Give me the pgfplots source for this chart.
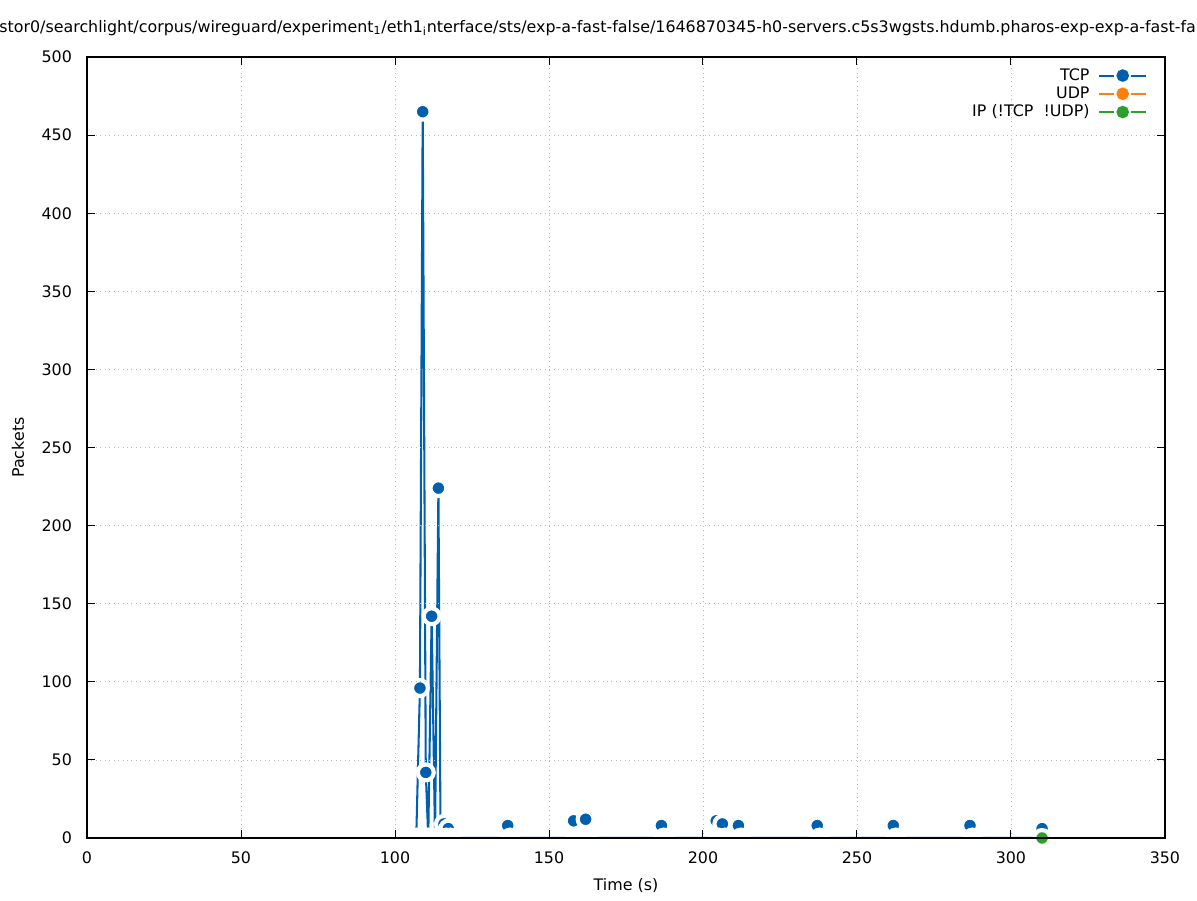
\documentclass[border=0pt]{standalone}
\usepackage{fontspec}
\setmainfont{DejaVu Sans}
\usepackage{pgfplots}
\pgfplotsset{compat=1.18}
\usepackage{pgfplotstable}

\definecolor{tcpblue}{HTML}{0060AD}
\definecolor{udporange}{HTML}{FF7F0E}
\definecolor{ipgreen}{HTML}{2CA02C}

% TCP packets per interval (line through every sample)
\pgfplotstableread{
t     pk
106.9 0
108.1 96
109.0 465
110.0 42
110.8 0
111.9 142
113.0 0
114.1 224
114.8 0
115.9 9
116.6 0
117.3 6
118.0 0
135.6 0
136.6 8
137.4 0
157.2 0
158.0 11
158.8 0
161.1 0
161.9 12
162.7 0
185.7 0
186.5 8
187.3 0
203.5 0
204.3 11
205.1 0
205.5 0
206.3 9
207.1 0
210.7 0
211.5 8
212.3 0
236.3 0
237.1 8
237.9 0
261.0 0
261.8 8
262.6 0
285.9 0
286.7 8
287.5 0
309.3 0
310.1 6
}\tcpline

% TCP samples that carry a visible point
\pgfplotstableread{
t     pk
108.1 96
109.0 465
110.0 42
111.9 142
114.1 224
115.9 9
117.3 6
136.6 8
158.0 11
161.9 12
186.5 8
204.3 11
206.3 9
211.5 8
237.1 8
261.8 8
286.7 8
310.1 6
}\tcpmarks

% zero samples (their points are blanked, only the white gap remains)
\pgfplotstableread{
t     pk
106.9 0
110.8 0
113.0 0
114.8 0
116.6 0
118.0 0
137.4 0
158.8 0
162.7 0
187.3 0
205.1 0
207.1 0
212.3 0
237.9 0
262.6 0
287.5 0
}\tcpzero

% IP (!TCP && !UDP)
\pgfplotstableread{
t     pk
310.1 0
}\ipdata

\begin{document}
\begin{tikzpicture}
\begin{axis}[
    set layers,
    axis on top,
    scale only axis,
    width=679.1pt,
    height=492.0pt,
    at={(0pt,0pt)},
    anchor=south west,
    xmin=0, xmax=350,
    ymin=0, ymax=500,
    xtick distance=50,
    ytick distance=50,
    tick align=inside,
    major tick length=5pt,
    tick style={black, line width=0.6pt},
    axis line style={black, line width=1.3pt},
    grid=major,
    grid style={gray!55, line width=0.5pt, dash pattern=on 0.6pt off 2.2pt},
    /pgf/number format/assume math mode=true,
    ticklabel style={font=\fontsize{10}{12}\selectfont},
    xticklabel style={yshift=-5.3pt},
    yticklabel style={xshift=-6pt},
    xlabel={Time (s)},
    ylabel={Packets},
    xlabel style={at={(axis description cs:0.5,0)}, anchor=center, yshift=-30.2pt},
    ylabel style={at={(axis description cs:0,0.5)}, anchor=center, yshift=43.5pt},
    label style={font=\fontsize{10}{12}\selectfont},
    legend plot pos=right,
    legend cell align=right,
    legend style={at={(1,1)}, anchor=north east, xshift=-8pt, yshift=-4pt,
        draw=none, fill=none, row sep=0.6pt,
        font=\fontsize{10}{12}\selectfont,
        nodes={inner sep=1pt}},
    legend image code/.code={
        \path (0pt,0pt);
        \draw[#1, mark=none] (4.5pt,0pt) -- (14pt,0pt);
        \draw[#1, mark=none] (24.5pt,0pt) -- (34pt,0pt);
        \draw[#1, only marks, mark size=3.3pt, mark options={draw=none}] plot coordinates {(19.25pt,0pt)};
    },
]
\addplot[tcpblue, line width=1.3pt, forget plot] table[x=t, y=pk] {\tcpline};
\addplot[only marks, mark=*, mark size=5pt,
    mark options={fill=tcpblue, draw=white, line width=2.6pt}, forget plot]
    table[x=t, y=pk] {\tcpmarks};
\addplot[white, only marks, mark=*, mark size=6.5pt,
    mark options={fill=white, draw=white, line width=0.1pt}, forget plot]
    table[x=t, y=pk] {\tcpzero};
\addplot[only marks, mark=*, mark size=5pt,
    mark options={fill=ipgreen, draw=white, line width=2.6pt}, forget plot]
    table[x=t, y=pk] {\ipdata};

\addlegendimage{tcpblue, line width=1.3pt, mark=*, mark options={fill=tcpblue}}
\addlegendentry{TCP}
\addlegendimage{udporange, line width=1.3pt, mark=*, mark options={fill=udporange}}
\addlegendentry{UDP}
\addlegendimage{ipgreen, line width=1.3pt, mark=*, mark options={fill=ipgreen}}
\addlegendentry{IP (!TCP\ \ !UDP)}
\end{axis}
\node[anchor=west, inner sep=0pt, font=\fontsize{10}{12}\selectfont] at (-55.4pt,510.3pt)
  {stor0/searchlight/corpus/wireguard/experiment\textsubscript{1}/eth1\textsubscript{i}nterface/sts/exp-a-fast-false/1646870345-h0-servers.c5s3wgsts.hdumb.pharos-exp-exp-a-fast-false};
\pgfresetboundingbox
\path[use as bounding box] (-54.81pt,-39.06pt) rectangle (699.30pt,527.94pt);
\end{tikzpicture}
\end{document}
